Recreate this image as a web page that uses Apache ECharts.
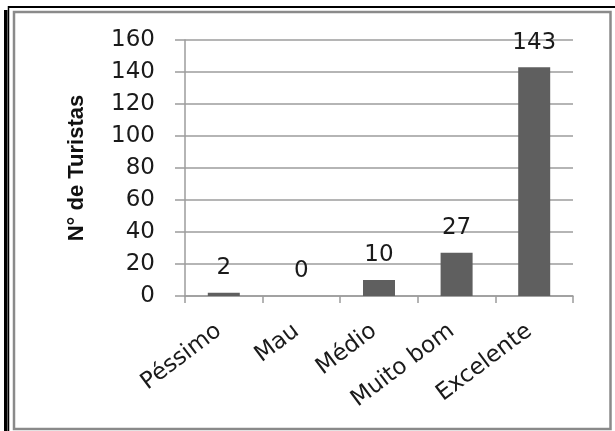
<!DOCTYPE html>
<html>
<head>
<meta charset="utf-8">
<script src="https://cdn.jsdelivr.net/npm/echarts@6/dist/echarts.min.js"></script>
<style>
  html, body { margin: 0; padding: 0; background: #fff; }
  #chart { width: 615px; height: 431px; }
</style>
</head>
<body>
<div id="chart"></div>
<script>
// Avaliação dos turistas: número de respostas por categoria
const categories = ['Péssimo', 'Mau', 'Médio', 'Muito bom', 'Excelente'];
const turistas = [2, 0, 10, 27, 143];
const yTicks = { min: 0, max: 160, interval: 20 };
const yTitle = 'N° de Turistas';

const numFont = 'DejaVu Sans, Verdana, sans-serif';
const gridGray = '#9c9c9c';

const chart = echarts.init(document.getElementById('chart'), null, { renderer: 'canvas' });

chart.setOption({
  animation: false,
  backgroundColor: '#ffffff',
  grid: { left: 185, right: 42, top: 40, bottom: 135, containLabel: false },
  xAxis: {
    type: 'category',
    data: categories,
    axisLine: { show: true, lineStyle: { color: gridGray, width: 1.5 } },
    axisTick: { show: true, length: 7, alignWithLabel: false, lineStyle: { color: gridGray, width: 1.5 } },
    axisLabel: {
      interval: 0,
      rotate: 37,
      margin: 29,
      padding: [0, 6, 0, 0],
      color: '#1a1a1a',
      fontFamily: numFont,
      fontSize: 23
    }
  },
  yAxis: {
    type: 'value',
    min: yTicks.min,
    max: yTicks.max,
    interval: yTicks.interval,
    name: yTitle,
    nameLocation: 'middle',
    nameGap: 97,
    nameRotate: 90,
    nameTextStyle: {
      color: '#111',
      fontFamily: 'Liberation Sans, Arial, sans-serif',
      fontWeight: 'bold',
      fontSize: 22
    },
    axisLine: { show: true, lineStyle: { color: gridGray, width: 1.5 } },
    axisTick: { show: true, length: 10, inside: false, lineStyle: { color: gridGray, width: 1.5 } },
    axisLabel: {
      margin: 30,
      color: '#1a1a1a',
      fontFamily: numFont,
      fontSize: 23
    },
    splitLine: { show: true, lineStyle: { color: gridGray, width: 1.5 } }
  },
  series: [{
    type: 'bar',
    data: turistas,
    barWidth: 32,
    itemStyle: { color: '#5f5f5f' },
    label: {
      show: true,
      position: 'top',
      distance: 13,
      color: '#1a1a1a',
      fontFamily: numFont,
      fontSize: 23
    }
  }],
  graphic: [
    // moldura cinzenta interior
    {
      type: 'rect',
      shape: { x: 14, y: 12, width: 596.5, height: 417 },
      style: { fill: null, stroke: '#8a8a8a', lineWidth: 2.5 },
      silent: true, z: -1
    },
    // contorno preto exterior
    {
      type: 'line',
      shape: { x1: 8, y1: 7, x2: 615, y2: 7 },
      style: { stroke: '#000', lineWidth: 2 },
      silent: true
    },
    {
      type: 'line',
      shape: { x1: 8.5, y1: 6, x2: 8.5, y2: 431 },
      style: { stroke: '#000', lineWidth: 1.5 },
      silent: true
    },
    {
      type: 'rect',
      shape: { x: 4, y: 10, width: 3.5, height: 421 },
      style: { fill: '#000' },
      silent: true
    }
  ]
});
</script>
</body>
</html>
